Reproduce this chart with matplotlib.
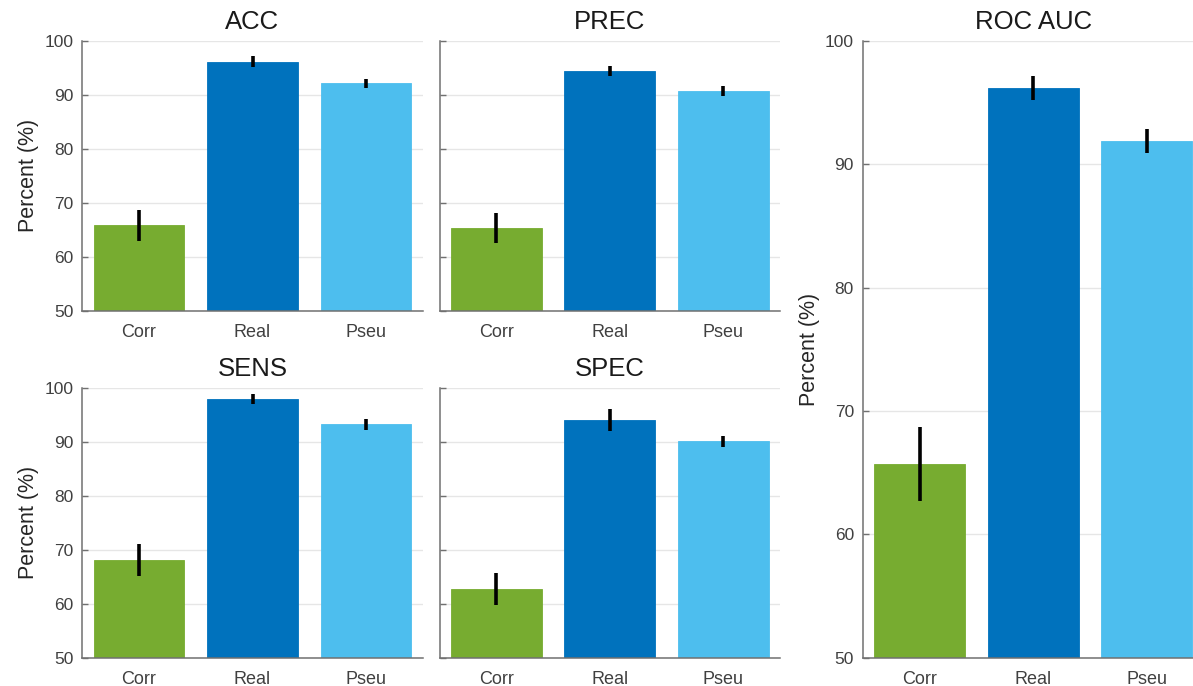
import matplotlib
matplotlib.use("Agg")
import matplotlib.pyplot as plt
import numpy as np

# ── Data ─────────────────────────────────────────────────────────────────────
groups = ["Corr", "Real", "Pseu"]

acc_mean = [65.8, 96.1, 92.1]
acc_err = [2.9, 1.0, 0.9]
prec_mean = [65.3, 94.4, 90.7]
prec_err = [2.85, 0.95, 1.0]
sens_mean = [68.1, 97.9, 93.3]
sens_err = [2.9, 0.95, 1.0]
spec_mean = [62.7, 94.1, 90.1]
spec_err = [2.95, 2.0, 1.0]
auc_mean = [65.7, 96.2, 91.9]
auc_err = [3.0, 1.0, 1.0]

y_ticks = [50, 60, 70, 80, 90, 100]

# ── Style ────────────────────────────────────────────────────────────────────
BAR_COLORS = ["#77AC30", "#0072BD", "#4DBEEE"]
AXIS_COLOR = "#707070"
TEXT_COLOR = "#404040"
GRID_COLOR = "#E6E6E6"

plt.rcParams["font.family"] = ["Liberation Sans", "DejaVu Sans"]

W, H = 1193, 686
fig = plt.figure(figsize=(W / 100, H / 100), dpi=100)
fig.patch.set_facecolor("white")


def px_axes(left, top, right, bottom):
    """Add an axes from pixel edges (origin at top-left)."""
    return fig.add_axes([left / W, 1 - bottom / H, (right - left) / W, (bottom - top) / H])


def bar_panel(ax, title, means, errs, show_labels=True):
    x = np.arange(1, len(groups) + 1)
    ax.bar(x, means, width=0.8, color=BAR_COLORS, edgecolor=BAR_COLORS,
           linewidth=0.6, zorder=2)
    ax.errorbar(x, means, yerr=errs, fmt="none", ecolor="black",
                elinewidth=2.6, capsize=0, zorder=3)

    ax.set_xlim(0.5, 3.5)
    ax.set_ylim(50, 100)
    ax.set_yticks(y_ticks)
    ax.set_xticks(x)
    ax.set_xticklabels(groups)

    ax.grid(axis="y", color=GRID_COLOR, linewidth=1.0)
    ax.set_axisbelow(True)

    for side in ["top", "right"]:
        ax.spines[side].set_visible(False)
    for side in ["left", "bottom"]:
        ax.spines[side].set_color(AXIS_COLOR)
        ax.spines[side].set_linewidth(1.1)

    ax.tick_params(axis="y", direction="in", length=4, width=1.0,
                   color=AXIS_COLOR, labelcolor=TEXT_COLOR, labelsize=12.5, pad=6.5)
    ax.tick_params(axis="x", length=0, labelcolor=TEXT_COLOR, labelsize=13, pad=9.5)

    if show_labels:
        ax.set_ylabel("Percent (%)", fontsize=15.5, color="#262626", labelpad=3.5)
    else:
        ax.set_yticklabels([])

    ax.set_title(title, fontsize=18.5, color="#1a1a1a", pad=8.5)


ax_acc = px_axes(82.3, 40.7, 422.7, 310.7)
ax_prec = px_axes(439.5, 40.7, 779.9, 310.7)
ax_sens = px_axes(82.3, 388.0, 422.7, 657.7)
ax_spec = px_axes(439.5, 388.0, 779.9, 657.7)
ax_auc = px_axes(863.0, 41.0, 1203.4, 657.7)

bar_panel(ax_acc, "ACC", acc_mean, acc_err)
bar_panel(ax_prec, "PREC", prec_mean, prec_err, show_labels=False)
bar_panel(ax_sens, "SENS", sens_mean, sens_err)
bar_panel(ax_spec, "SPEC", spec_mean, spec_err, show_labels=False)
bar_panel(ax_auc, "ROC AUC", auc_mean, auc_err)

fig.savefig("out.png", dpi=100, facecolor="white")
